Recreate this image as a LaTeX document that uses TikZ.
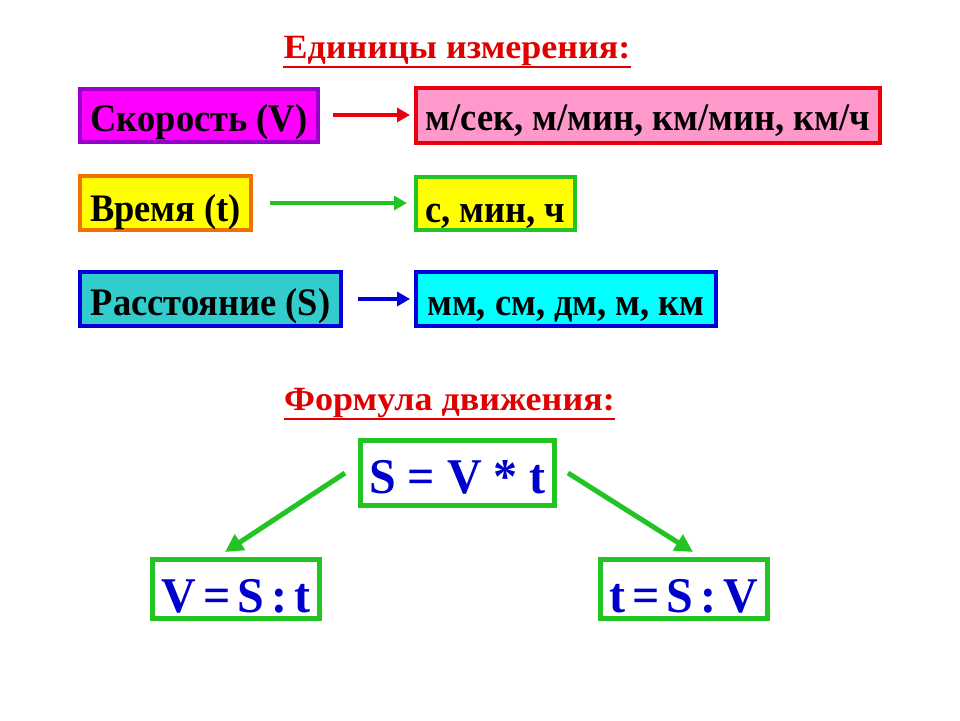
\documentclass[tikz,border=0pt]{standalone}
\usepackage{fontspec}
\setmainfont{Liberation Serif}
\newfontfamily\boxfont[FakeStretch=0.935]{Liberation Serif}
\newfontfamily\titlefont[FakeStretch=1.06]{Liberation Serif}
\newfontfamily\formfont[FakeStretch=0.96]{Liberation Serif}
\usetikzlibrary{arrows.meta,shadows}
\definecolor{cMag}{HTML}{FF00FF}
\definecolor{cPurp}{HTML}{9900CC}
\definecolor{cPink}{HTML}{FF99CC}
\definecolor{cRed}{HTML}{E8000C}
\definecolor{cYel}{HTML}{FFFF00}
\definecolor{cOrg}{HTML}{F07000}
\definecolor{cGrn}{HTML}{22C322}
\definecolor{cTeal}{HTML}{33CCCC}
\definecolor{cBlue}{HTML}{0000DD}
\definecolor{cCyan}{HTML}{00FFFF}
\definecolor{cTxtBlue}{HTML}{0000CC}
\definecolor{cTitle}{HTML}{E00000}
\begin{document}
\begin{tikzpicture}[x=1pt,y=-1pt,
  box/.style={draw, line width=4pt, inner sep=0pt, text=black,
    font=\boxfont\fontsize{39}{43}\selectfont\bfseries,
    text height=#1, text depth=0pt,
    drop shadow={shadow xshift=1.5pt, shadow yshift=-1.5pt, fill=black!60, opacity=0.5}},
  box/.default=33pt,
  fbox/.style={draw=cGrn, line width=5pt, fill=white, inner sep=0pt, text=cTxtBlue,
    font=\formfont\fontsize{50}{54}\selectfont\bfseries, text height=#1, text depth=0pt},
  fbox/.default=40pt,
  title/.style={text=cTitle, font=\titlefont\fontsize{34}{38}\selectfont\bfseries, inner sep=0pt, anchor=base},
  uline/.style={draw=cTitle, line width=2.5pt},
  arr/.style={line width=4.5pt, -{Triangle[length=13pt,width=14pt]}},
  farr/.style={draw=cGrn, line width=5pt, -{Triangle[length=18pt,width=18pt]}}
]
\useasboundingbox (0,0) rectangle (960,720);
% titles
\node[title] (t1) at (457,58) {Единицы измерения:};
\draw[uline] ([yshift=-9pt]t1.base west) -- ([yshift=-9pt]t1.base east);
\node[title] (t2) at (449.5,410) {Формула движения:};
\draw[uline] ([yshift=-9pt]t2.base west) -- ([yshift=-9pt]t2.base east);
% left boxes
\node[box, fill=cMag, draw=cPurp, minimum width=238pt, minimum height=53pt] (v) at (199,115) {Скорость (V)};
\node[box=37pt, fill=cYel, draw=cOrg, minimum width=171pt, minimum height=54pt] (tm) at (165.5,203) {Время (t)};
\node[box, fill=cTeal, draw=cBlue, minimum width=261pt, minimum height=54pt] (s) at (210.5,299) {Расстояние (S)};
% right boxes
\node[box=30pt, fill=cPink, draw=cRed, minimum width=464pt, minimum height=55pt] (vu) at (648,115.5) {м/сек, м/мин, км/мин, км/ч};
\node[box=37pt, fill=cYel, draw=cGrn, minimum width=159pt, minimum height=53pt] (tu) at (495.5,203.5) {с, мин, ч};
\node[box, fill=cCyan, draw=cBlue, minimum width=300pt, minimum height=54pt] (su) at (566,299) {мм, см, дм, м, км};
% arrows
\draw[arr, draw=cRed, shorten <=13pt, shorten >=4pt] (v.east) -- (v.east -| vu.west);
\draw[arr, draw=cGrn, shorten <=17pt, shorten >=7pt] (tm.east) -- (tm.east -| tu.west);
\draw[arr, draw=cBlue, shorten <=15pt, shorten >=4pt] (s.east) -- (s.east -| su.west);
% formulas
\node[fbox, minimum width=194pt, minimum height=65pt] (f) at (457.5,473) {S = V * t};
\node[fbox=46pt, minimum width=167pt, minimum height=59pt] (fv) at (236,589)
  {V\hspace{0.14em}=\hspace{0.14em}S\hspace{0.14em}:\hspace{0.14em}t};
\node[fbox=46pt, minimum width=167pt, minimum height=59pt] (ft) at (684,589)
  {t\hspace{0.14em}=\hspace{0.14em}S\hspace{0.14em}:\hspace{0.14em}V};
\draw[farr] ([xshift=-13pt]f.west) -- ([xshift=-11pt,yshift=5pt]fv.north);
\draw[farr] ([xshift=11pt]f.east) -- ([xshift=9pt,yshift=5pt]ft.north);
\end{tikzpicture}
\end{document}
